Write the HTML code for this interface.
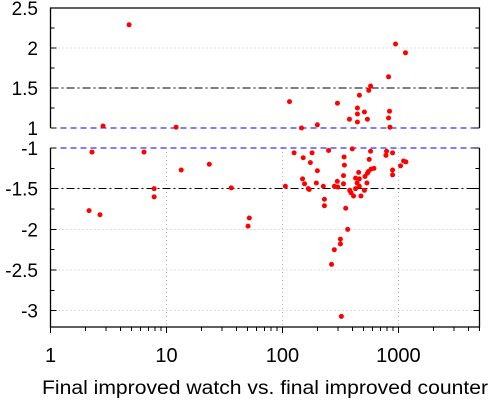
<!DOCTYPE html>
<html><head><meta charset="utf-8"><style>
body{margin:0;background:#fff;}
svg{display:block;font-family:"Liberation Sans",sans-serif;}
line{shape-rendering:crispEdges;}
</style></head><body>
<svg id="chart" width="500" height="400" viewBox="0 0 500 400" xmlns="http://www.w3.org/2000/svg"></svg>
<script>
const upperX = [4.76,2.84,12.1,115,146,200,298,378,443,443,443,461,509,540,555,575,822,838,822,845,944,1150];
const upperY = [2.29,1.025,1.01,1.33,1.0,1.04,1.31,1.11,1.175,1.25,1.075,1.41,1.2,1.11,1.47,1.525,1.64,1.21,1.125,1.01,2.05,1.94];
const lowerX = [2.28,6.4,13.4,23.4,36.2,7.83,7.83,2.15,2.67,51.8,50.5,106,126,151,149,155,167,170,174,180,200,196,225,230,250,280,297,300,336,336,340,342,380,390,400,410,427,427,440,454,460,460,475,509,515,535,540,550,580,615,560,575,780,790,890,890,890,1043,1107,1160,230,351,365,316,316,280,265,322];
const lowerY = [-1.05,-1.05,-1.27,-1.2,-1.49,-1.5,-1.6,-1.77,-1.82,-1.86,-1.96,-1.47,-1.06,-1.12,-1.38,-1.44,-1.5,-1.51,-1.18,-1.06,-1.28,-1.43,-1.47,-1.63,-1.03,-1.47,-1.41,-1.48,-1.34,-1.44,-1.11,-1.21,-1.52,-1.55,-1.01,-1.59,-1.37,-1.5,-1.43,-1.3,-1.38,-1.47,-1.59,-1.52,-1.35,-1.43,-1.31,-1.29,-1.26,-1.25,-1.14,-1.04,-1.09,-1.04,-1.06,-1.27,-1.33,-1.22,-1.16,-1.17,-1.71,-1.74,-2.0,-2.12,-2.18,-2.25,-2.43,-3.07];
const upperTicks = ["2.5","2","1.5","1"];
const upperTickVals = [2.5,2,1.5,1];
const lowerTicks = ["-1","-1.5","-2","-2.5","-3"];
const lowerTickVals = [-1,-1.5,-2,-2.5,-3];
const xTicks = ["1","10","100","1000"];
const xTickVals = [1,10,100,1000];

const L=50.5,R=479.5,UT=8,UB=128,LT=148,LB=327;
const xMin=1,xMax=5000;
const xs=v=>L+(Math.log10(v)-Math.log10(xMin))/(Math.log10(xMax)-Math.log10(xMin))*(R-L);
const yu=v=>UB-(v-1)/(2.5-1)*(UB-UT);
const yl=v=>LT+(-1-v)/(3.2-1)*(LB-LT);
const svg=document.getElementById('chart');
const NS='http://www.w3.org/2000/svg';
function mk(tag,at,parent){const e=document.createElementNS(NS,tag);for(const k in at)e.setAttribute(k,at[k]);(parent||svg).appendChild(e);return e;}
function line(x1,y1,x2,y2,st,dash,w){return mk('line',{x1,y1,x2,y2,stroke:st,'stroke-width':w||1,'stroke-dasharray':dash||'none'});}

let g;
g=line(L,yu(2),R,yu(2),'#bbb','1,3');

[-2,-2.5,-3].forEach(v=>{g=line(L,yl(v),R,yl(v),'#bbb','1,3');});
[10,100,1000].forEach(v=>{g=line(xs(v),LT,xs(v),LB,'#bbb','1,3');});
g=line(L,yu(1.5),R,yu(1.5),'#000','8,3,2,3');
g=line(L,yl(-1.5),R,yl(-1.5),'#000','8,3,2,3');
g=line(L,yu(1),R,yu(1),'#00f','6,4');
g=line(L,yl(-1),R,yl(-1),'#00f','6,4');

g=mk('path',{d:`M${L},${UB}V${UT}H${R}V${UB}`,fill:'none',stroke:'#000','stroke-width':1.3});

g=mk('path',{d:`M${L},${LT}V${LB}H${R}V${LT}`,fill:'none',stroke:'#000','stroke-width':1.3});


upperTickVals.forEach((v,i)=>{
  const y=yu(v);
  line(L,y,L+6,y,'#000');line(R,y,R-6,y,'#000');
  const t=mk('text',{x:38,y:y+7,'text-anchor':'end','font-size':19});t.textContent=upperTicks[i];
  
});
[2.25,1.75,1.25].forEach(v=>{const y=yu(v);line(L,y,L+4,y,'#000');line(R,y,R-4,y,'#000');});
lowerTickVals.forEach((v,i)=>{
  const y=yl(v);
  line(L,y,L+6,y,'#000');line(R,y,R-6,y,'#000');
  const t=mk('text',{x:38,y:y+7,'text-anchor':'end','font-size':19});t.textContent=lowerTicks[i];
  
});
[-1.25,-1.75,-2.25,-2.75].forEach(v=>{const y=yl(v);line(L,y,L+4,y,'#000');line(R,y,R-4,y,'#000');});

xTickVals.forEach((v,i)=>{
  const x=xs(v);
  line(x,LB,x,LB+6,'#000');
  const t=mk('text',{x:x,y:362,'text-anchor':'middle','font-size':20});t.textContent=xTicks[i];
  
});
for(let d=1;d<=1000;d*=10){for(let m=2;m<=9;m++){const v=d*m;if(v<=xMax)line(xs(v),LB,xs(v),LB+4,'#000');}}

upperX.forEach((xv,i)=>{
  const c=mk('circle',{cx:xs(xv),cy:yu(upperY[i]),r:2.5,fill:'#f00'});
  
  
});
lowerX.forEach((xv,i)=>{
  const c=mk('circle',{cx:xs(xv),cy:yl(lowerY[i]),r:2.5,fill:'#f00'});
  
  
});

const tt=mk('text',{x:265,y:394,'text-anchor':'middle','font-size':19,textLength:446,lengthAdjust:'spacingAndGlyphs'});
tt.textContent='Final improved watch vs. final improved counter';


</script>
</body></html>
